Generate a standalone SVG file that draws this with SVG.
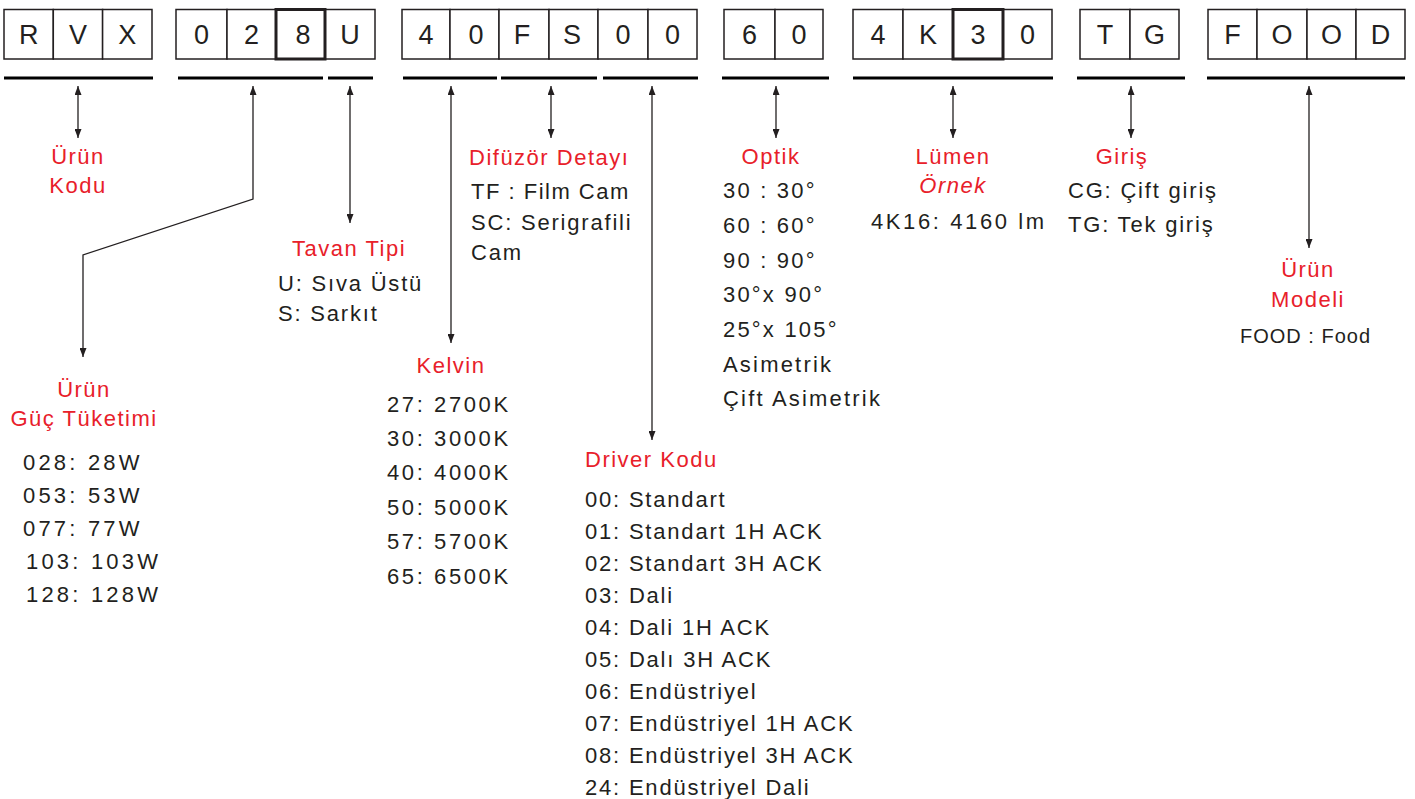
<svg xmlns="http://www.w3.org/2000/svg" width="1415" height="799" viewBox="0 0 1415 799">
<defs>
<style>
.cell{fill:#fff;stroke:#231f20;stroke-width:1.5}
.thick{fill:none;stroke:#231f20;stroke-width:3}
.ch{font-family:"Liberation Sans",Arial,sans-serif;font-size:27px;fill:#231f20;text-anchor:middle}
.ul{stroke:#000;stroke-width:3}
.ln{fill:none;stroke:#231f20;stroke-width:1.3;marker-start:url(#ah);marker-end:url(#ah)}
.t{font-family:"Liberation Sans",Arial,sans-serif;font-size:22px;fill:#e8202a;letter-spacing:1.5px}
.c{text-anchor:middle}
.b{font-family:"Liberation Sans",Arial,sans-serif;font-size:22px;fill:#231f20;letter-spacing:1.8px}
.num{letter-spacing:3.2px}
.kel{letter-spacing:2.6px}
.opt{letter-spacing:2.2px}
</style>
<marker id="ah" viewBox="0 0 9 7" refX="9" refY="3.5" markerWidth="9" markerHeight="7" markerUnits="userSpaceOnUse" orient="auto-start-reverse">
<path d="M0,0 L9,3.5 L0,7 z" fill="#231f20"/>
</marker>
</defs>
<rect width="1415" height="799" fill="#fff"/>

<g id="box-rvx">
<rect class="cell" x="4" y="9.5" width="49.3" height="49.5"/>
<rect class="cell" x="53.3" y="9.5" width="49.3" height="49.5"/>
<rect class="cell" x="102.6" y="9.5" width="49.4" height="49.5"/>
<text class="ch" x="28.7" y="44">R</text>
<text class="ch" x="78" y="44">V</text>
<text class="ch" x="127.3" y="44">X</text>
</g>
<g id="box-028u">
<rect class="cell" x="176" y="9.5" width="51" height="49.5"/>
<rect class="cell" x="227" y="9.5" width="49" height="49.5"/>
<rect class="cell" x="325" y="9.5" width="50" height="49.5"/>
<rect class="thick" x="276" y="9.5" width="49" height="49.5"/>
<text class="ch" x="201.5" y="44">0</text>
<text class="ch" x="251.5" y="44">2</text>
<text class="ch" x="303" y="44">8</text>
<text class="ch" x="350" y="44">U</text>
</g>
<g id="box-40fs00">
<rect class="cell" x="402" y="9.5" width="48" height="49.5"/>
<rect class="cell" x="450" y="9.5" width="49" height="49.5"/>
<rect class="cell" x="499" y="9.5" width="50" height="49.5"/>
<rect class="cell" x="549" y="9.5" width="49" height="49.5"/>
<rect class="cell" x="598" y="9.5" width="50" height="49.5"/>
<rect class="cell" x="648" y="9.5" width="49" height="49.5"/>
<text class="ch" x="426" y="44">4</text>
<text class="ch" x="476" y="44">0</text>
<text class="ch" x="522" y="44">F</text>
<text class="ch" x="572" y="44">S</text>
<text class="ch" x="623" y="44">0</text>
<text class="ch" x="672.5" y="44">0</text>
</g>
<g id="box-60">
<rect class="cell" x="724" y="9.5" width="51" height="49.5"/>
<rect class="cell" x="775" y="9.5" width="48" height="49.5"/>
<text class="ch" x="749.5" y="44">6</text>
<text class="ch" x="799" y="44">0</text>
</g>
<g id="box-4k30">
<rect class="cell" x="853" y="9.5" width="50" height="49.5"/>
<rect class="cell" x="903" y="9.5" width="50" height="49.5"/>
<rect class="cell" x="1003" y="9.5" width="49" height="49.5"/>
<rect class="thick" x="953" y="9.5" width="50" height="49.5"/>
<text class="ch" x="878" y="44">4</text>
<text class="ch" x="928" y="44">K</text>
<text class="ch" x="978" y="44">3</text>
<text class="ch" x="1027.5" y="44">0</text>
</g>
<g id="box-tg">
<rect class="cell" x="1080" y="9.5" width="50" height="49.5"/>
<rect class="cell" x="1130" y="9.5" width="49" height="49.5"/>
<text class="ch" x="1105" y="44">T</text>
<text class="ch" x="1154.5" y="44">G</text>
</g>
<g id="box-food">
<rect class="cell" x="1208" y="9.5" width="49" height="49.5"/>
<rect class="cell" x="1257" y="9.5" width="50" height="49.5"/>
<rect class="cell" x="1307" y="9.5" width="49" height="49.5"/>
<rect class="cell" x="1356" y="9.5" width="49" height="49.5"/>
<text class="ch" x="1232.5" y="44">F</text>
<text class="ch" x="1282" y="44">O</text>
<text class="ch" x="1331.5" y="44">O</text>
<text class="ch" x="1380.5" y="44">D</text>
</g>

<g id="connectors">
<line class="ul" x1="4" y1="78" x2="153" y2="78"/>
<line class="ul" x1="178" y1="78" x2="323" y2="78"/>
<line class="ul" x1="328" y1="78" x2="373" y2="78"/>
<line class="ul" x1="403" y1="78" x2="497" y2="78"/>
<line class="ul" x1="501" y1="78" x2="597" y2="78"/>
<line class="ul" x1="603" y1="78" x2="698" y2="78"/>
<line class="ul" x1="722" y1="78" x2="829" y2="78"/>
<line class="ul" x1="853" y1="78" x2="1053" y2="78"/>
<line class="ul" x1="1077" y1="78" x2="1185" y2="78"/>
<line class="ul" x1="1207" y1="78" x2="1405" y2="78"/>
<path class="ln" d="M78,86 V138"/>
<path class="ln" d="M253,86 V199 L83,255 V357"/>
<path class="ln" d="M350,86 V223"/>
<path class="ln" d="M451,86 V343"/>
<path class="ln" d="M551,86 V138"/>
<path class="ln" d="M652,86 V440"/>
<path class="ln" d="M776,86 V138"/>
<path class="ln" d="M953,86 V138"/>
<path class="ln" d="M1131,86 V138"/>
<path class="ln" d="M1309,86 V248"/>
</g>

<g id="label-urun-kodu">
<text class="t c" x="78" y="164">Ürün</text>
<text class="t c" x="78" y="193">Kodu</text>
</g>
<g id="label-guc">
<text class="t c" x="84" y="397">Ürün</text>
<text class="t c" x="84" y="426">Güç Tüketimi</text>
<text class="b num" x="23" y="470">028: 28W</text>
<text class="b num" x="23" y="503">053: 53W</text>
<text class="b num" x="23" y="536">077: 77W</text>
<text class="b num" x="26" y="569">103: 103W</text>
<text class="b num" x="26" y="602">128: 128W</text>
</g>
<g id="label-tavan">
<text class="t c" x="349" y="256">Tavan Tipi</text>
<text class="b" x="278" y="291">U: Sıva Üstü</text>
<text class="b" x="278" y="321">S: Sarkıt</text>
</g>
<g id="label-kelvin">
<text class="t c" x="451" y="373">Kelvin</text>
<text class="b kel" x="387" y="412">27: 2700K</text>
<text class="b kel" x="387" y="446">30: 3000K</text>
<text class="b kel" x="387" y="480">40: 4000K</text>
<text class="b kel" x="387" y="515">50: 5000K</text>
<text class="b kel" x="387" y="549">57: 5700K</text>
<text class="b kel" x="387" y="584">65: 6500K</text>
</g>
<g id="label-difuzor">
<text class="t" x="469" y="165">Difüzör Detayı</text>
<text class="b" x="471" y="199" style="letter-spacing:1.5px">TF : Film Cam</text>
<text class="b" x="471" y="230">SC: Serigrafili</text>
<text class="b" x="471" y="260">Cam</text>
</g>
<g id="label-driver">
<text class="t" x="585" y="467">Driver Kodu</text>
<text class="b" x="585" y="507">00: Standart</text>
<text class="b" x="585" y="539">01: Standart 1H ACK</text>
<text class="b" x="585" y="571">02: Standart 3H ACK</text>
<text class="b" x="585" y="603">03: Dali</text>
<text class="b" x="585" y="635">04: Dali 1H ACK</text>
<text class="b" x="585" y="667">05: Dalı 3H ACK</text>
<text class="b" x="585" y="699">06: Endüstriyel</text>
<text class="b" x="585" y="731">07: Endüstriyel 1H ACK</text>
<text class="b" x="585" y="763">08: Endüstriyel 3H ACK</text>
<text class="b" x="585" y="795">24: Endüstriyel Dali</text>
</g>
<g id="label-optik">
<text class="t c" x="771" y="164">Optik</text>
<text class="b opt" x="723" y="198">30 : 30°</text>
<text class="b opt" x="723" y="233">60 : 60°</text>
<text class="b opt" x="723" y="268">90 : 90°</text>
<text class="b opt" x="723" y="302">30°x 90°</text>
<text class="b opt" x="723" y="337">25°x 105°</text>
<text class="b opt" x="723" y="372">Asimetrik</text>
<text class="b opt" x="723" y="406">Çift Asimetrik</text>
</g>
<g id="label-lumen">
<text class="t c" x="953" y="164">Lümen</text>
<text class="t c" x="953" y="193" font-style="italic">Örnek</text>
<text class="b kel" x="871" y="229">4K16: 4160 lm</text>
</g>
<g id="label-giris">
<text class="t c" x="1122" y="164">Giriş</text>
<text class="b" x="1068" y="198">CG: Çift giriş</text>
<text class="b" x="1068" y="232">TG: Tek giriş</text>
</g>
<g id="label-model">
<text class="t c" x="1308" y="277">Ürün</text>
<text class="t c" x="1308" y="307">Modeli</text>
<text class="b" x="1240" y="343" style="font-size:20px;letter-spacing:1px">FOOD : Food</text>
</g>
</svg>
